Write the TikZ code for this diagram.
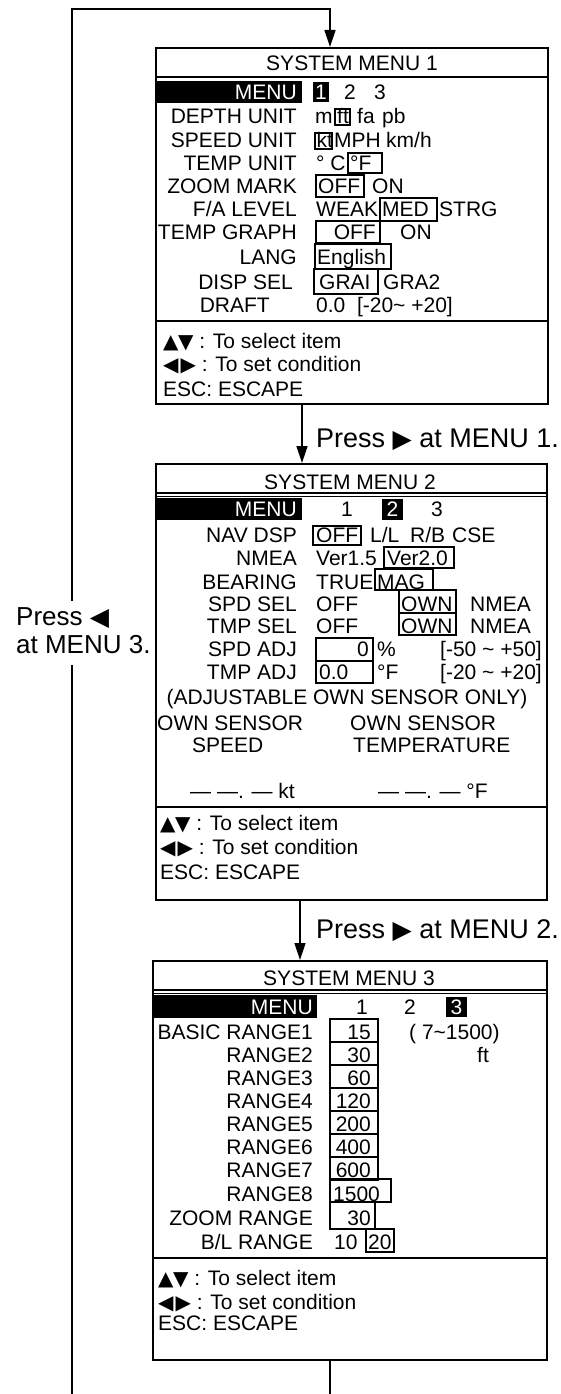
\documentclass[tikz,border=0pt]{standalone}
\usepackage{fontspec}
\setmainfont{Liberation Sans}
\newfontfamily\symf{DejaVu Sans}
\usetikzlibrary{arrows.meta}
\newcommand\menufont{\fontsize{21}{25}\selectfont}
\newcommand\labfont{\fontsize{27}{28}\selectfont}
\newcommand\leftlabfont{\fontsize{26}{28}\selectfont}
\newcommand\updn{{\symf\fontsize{20}{20}\selectfont ▲\kern-0.5pt▼}}
\newcommand\lfrt{{\symf\fontsize{20}{20}\selectfont ◀\kern2pt▶}}
\newcommand\rtri{{\symf\fontsize{25}{25}\selectfont ▶}}
\newcommand\ltri{{\symf\fontsize{25}{25}\selectfont ◀}}
\tikzset{
  mt/.style={inner sep=0pt, font=\menufont},
  wt/.style={mt, text=white},
  lt/.style={inner sep=0pt, font=\labfont},
  llt/.style={inner sep=0pt, font=\leftlabfont},
  bx/.style={draw, line width=1.2pt},
  frame/.style={draw, line width=1.8pt, inner sep=0pt, anchor=north west},
  sepl/.style={line width=1.6pt},
  conn/.style={line width=1.4pt},
  arr/.style={conn, -{Triangle[length=17pt,width=11pt]}},
}
\begin{document}
\begin{tikzpicture}[x=1pt,y=-1pt]
\useasboundingbox (0,0) rectangle (560,1394);

% ---------------- MENU 1 ----------------
\node[frame, minimum width=392, minimum height=356] (m1) at (155,47) {};
\node[mt] (t1) at (352,63) {SYSTEM MENU 1};
\draw[sepl] (155,77) -- (547,77);
\fill (155,81) rectangle (302,103);
\node[wt, anchor=base east] (k1) at (297,99.5) {MENU};
\fill (313,82) rectangle (329,102);
\node[wt, anchor=base] (a11) at (321,99.5) {1};
\node[mt, anchor=base] (a12) at (350,99.5) {2};
\node[mt, anchor=base] (a13) at (380,99.5) {3};

\node[mt, anchor=base east] (k2) at (297,124) {DEPTH UNIT};
\node[mt, anchor=base west] (b1) at (315,124) {m};
\draw[bx] (335,109) rectangle (350,125);
\node[mt, anchor=base west] (b2) at (337,124) {ft};
\node[mt, anchor=base west] (b3) at (357,124) {fa};
\node[mt, anchor=base west] (b4) at (382,124) {pb};

\node[mt, anchor=base east] (k3) at (297,147.5) {SPEED UNIT};
\draw[bx] (315,133) rectangle (332,149);
\node[mt, anchor=base west] (c1) at (316.5,147.5) {kt};
\node[mt, anchor=base west] (c2) at (334,147.5) {MPH};
\node[mt, anchor=base west] (c3) at (386,147.5) {km/h};

\node[mt, anchor=base east] (k4) at (297,170.5) {TEMP UNIT};
\node[mt, anchor=base west] (d1) at (316,170.5) {° C};
\draw[bx] (348,153) rectangle (382,173);
\node[mt, anchor=base west] (d2) at (350,170.5) {°F};

\node[mt, anchor=base east] (k5) at (297,193.5) {ZOOM MARK};
\draw[bx] (316,175) rectangle (364,197);
\node[mt, anchor=base west] (e1) at (318,193.5) {OFF};
\node[mt, anchor=base west] (e2) at (372,193.5) {ON};

\node[mt, anchor=base east] (k6) at (297,216.5) {F/A LEVEL};
\node[mt, anchor=base west] (f1) at (316,216.5) {WEAK};
\draw[bx] (380,198) rectangle (437,221);
\node[mt, anchor=base west] (f2) at (382,216.5) {MED};
\node[mt, anchor=base west] (f3) at (439,216.5) {STRG};

\node[mt, anchor=base east] (k7) at (297,239.5) {TEMP GRAPH};
\draw[bx] (316,221) rectangle (380,243);
\node[mt, anchor=base east] (g1) at (376,239.5) {OFF};
\node[mt, anchor=base west] (g2) at (400,239.5) {ON};

\node[mt, anchor=base east] (k8) at (297,264) {LANG};
\draw[bx] (315,244) rectangle (391,269);
\node[mt, anchor=base west] (h1) at (317,264) {English};

\node[mt, anchor=base east] (k9) at (293,289) {DISP SEL};
\draw[bx] (314,269) rectangle (378,294);
\node[mt, anchor=base west] (i1) at (319,289) {GRAI};
\node[mt, anchor=base west] (i2) at (383,289) {GRA2};

\node[mt, anchor=base east] (k10) at (270,312.5) {DRAFT};
\node[mt, anchor=base west] (j1) at (316,312.5) {0.0\ \ [-20\textasciitilde\ +20]};

\draw[sepl] (155,321) -- (547,321);
\node[mt, anchor=base west] (hl11) at (163,348.5) {\updn\ : To select item};
\node[mt, anchor=base west] (hl12) at (163,371.5) {\lfrt\ : To set condition};
\node[mt, anchor=base west] (hl13) at (163,396.5) {ESC: ESCAPE};

% ---------------- MENU 2 ----------------
\node[frame, minimum width=391, minimum height=436] (m2) at (155,463) {};
\node[mt] (t2) at (350,482) {SYSTEM MENU 2};
\draw[sepl] (155,493) -- (546,493);
\draw[line width=1pt] (155,496.5) -- (546,496.5);
\fill (155,498) rectangle (302,520);
\node[wt, anchor=base east] (n1) at (297,516.5) {MENU};
\node[mt, anchor=base] (o1) at (347,516.5) {1};
\fill (382,499) rectangle (403,520);
\node[wt, anchor=base] (o2) at (392.5,516.5) {2};
\node[mt, anchor=base] (o3) at (437,516.5) {3};

\node[mt, anchor=base east] (n2) at (297,542.5) {NAV DSP};
\draw[bx] (313,526) rectangle (361,545);
\node[mt, anchor=base west] (p1) at (316,542.5) {OFF};
\node[mt, anchor=base west] (p2) at (370,542.5) {L/L};
\node[mt, anchor=base west] (p3) at (410,542.5) {R/B};
\node[mt, anchor=base west] (p4) at (452,542.5) {CSE};

\node[mt, anchor=base east] (n3) at (297,565.5) {NMEA};
\node[mt, anchor=base west] (q1) at (316,565.5) {Ver1.5};
\draw[bx] (384,547) rectangle (454,568);
\node[mt, anchor=base west] (q2) at (387,565.5) {Ver2.0};

\node[mt, anchor=base east] (n4) at (297,589) {BEARING};
\node[mt, anchor=base west] (r1) at (316,589) {TRUE};
\draw[bx] (375,569) rectangle (433,590);
\node[mt, anchor=base west] (r2) at (377,589) {MAG};

\node[mt, anchor=base east] (n5) at (297,611) {SPD SEL};
\node[mt, anchor=base west] (s1) at (316,611) {OFF};
\draw[bx] (399,590) rectangle (456,613);
\node[mt, anchor=base west] (s2) at (401,611) {OWN};
\node[mt, anchor=base west] (s3) at (470,611) {NMEA};

\node[mt, anchor=base east] (n6) at (297,633) {TMP SEL};
\node[mt, anchor=base west] (u1) at (316,633) {OFF};
\draw[bx] (399,613) rectangle (456,635);
\node[mt, anchor=base west] (u2) at (401,633) {OWN};
\node[mt, anchor=base west] (u3) at (470,633) {NMEA};

\node[mt, anchor=base east] (n7) at (297,656) {SPD ADJ};
\draw[bx] (316,638) rectangle (373,661);
\node[mt, anchor=base east] (v1) at (369,656) {0};
\node[mt, anchor=base west] (v2) at (377,656) {\%};
\node[mt, anchor=base east] (v3) at (542,656) {[-50 \textasciitilde\ +50]};

\node[mt, anchor=base east] (n8) at (297,679.5) {TMP ADJ};
\draw[bx] (316,661) rectangle (373,683);
\node[mt, anchor=base west] (w1) at (319,679.5) {0.0};
\node[mt, anchor=base west] (w2) at (377,679.5) {°F};
\node[mt, anchor=base east] (w3) at (542,679.5) {[-20 \textasciitilde\ +20]};

\node[mt, anchor=base] (x1) at (347,704.5) {(ADJUSTABLE OWN SENSOR ONLY)};
\node[mt, anchor=base west] (x2) at (157,730.5) {OWN SENSOR};
\node[mt, anchor=base west] (x3) at (192,752.5) {SPEED};
\node[mt, anchor=base west] (x4) at (350,730.5) {OWN SENSOR};
\node[mt, anchor=base west] (x5) at (353,752.5) {TEMPERATURE};
\node[mt, anchor=base west] (x6) at (190,798) {— —. — kt};
\node[mt, anchor=base west] (x7) at (378,798) {— —. — °F};

\draw[sepl] (155,807) -- (546,807);
\node[mt, anchor=base west] (hl21) at (160,830.5) {\updn\ : To select item};
\node[mt, anchor=base west] (hl22) at (160,854.5) {\lfrt\ : To set condition};
\node[mt, anchor=base west] (hl23) at (160,879.5) {ESC: ESCAPE};

% ---------------- MENU 3 ----------------
\node[frame, minimum width=394, minimum height=399] (m3) at (152,960) {};
\node[mt] (t3) at (349,978) {SYSTEM MENU 3};
\draw[sepl] (152,990) -- (546,990);
\draw[line width=1pt] (152,993.5) -- (546,993.5);
\fill (152,995) rectangle (317,1018);
\node[wt, anchor=base east] (y1) at (313,1014) {MENU};
\node[mt, anchor=base] (z1) at (362,1014) {1};
\node[mt, anchor=base] (z2) at (410,1014) {2};
\fill (446,997) rectangle (467,1017);
\node[wt, anchor=base] (z3) at (456.5,1014) {3};

\node[mt, anchor=base east] (y2) at (313,1039.5) {BASIC RANGE1};
\node[mt, anchor=base east] (y3) at (313,1062.5) {RANGE2};
\node[mt, anchor=base east] (y4) at (313,1085.5) {RANGE3};
\node[mt, anchor=base east] (y5) at (313,1108.5) {RANGE4};
\node[mt, anchor=base east] (y6) at (313,1131.5) {RANGE5};
\node[mt, anchor=base east] (y7) at (313,1154.5) {RANGE6};
\node[mt, anchor=base east] (y8) at (313,1177.5) {RANGE7};
\node[mt, anchor=base east] (y9) at (313,1201.5) {RANGE8};
\node[mt, anchor=base east] (y10) at (313,1225.5) {ZOOM RANGE};
\node[mt, anchor=base east] (y11) at (313,1249.5) {B/L RANGE};

\foreach \ya/\yb in {1019/1042,1042/1065,1065/1088,1088/1111,1111/1134,1134/1157,1157/1180}
  \draw[bx] (330,\ya) rectangle (378,\yb);
\draw[bx] (330,1179) rectangle (391,1202);
\draw[bx] (330,1202) rectangle (375,1229);
\draw[bx] (366,1229) rectangle (394,1252);

\node[mt, anchor=base east] (r31) at (371,1039.5) {15};
\node[mt, anchor=base east] (r32) at (371,1062.5) {30};
\node[mt, anchor=base east] (r33) at (371,1085.5) {60};
\node[mt, anchor=base east] (r34) at (371,1108.5) {120};
\node[mt, anchor=base east] (r35) at (371,1131.5) {200};
\node[mt, anchor=base east] (r36) at (371,1154.5) {400};
\node[mt, anchor=base east] (r37) at (371,1177.5) {600};
\node[mt, anchor=base west] (r38) at (333,1201.5) {1500};
\node[mt, anchor=base east] (r39) at (371,1225.5) {30};
\node[mt, anchor=base west] (r40) at (334,1249.5) {10};
\node[mt, anchor=base west] (r41) at (368,1249.5) {20};
\node[mt, anchor=base west] (r42) at (409,1039.5) {( 7\textasciitilde 1500)};
\node[mt, anchor=base west] (r43) at (477,1062.5) {ft};

\draw[sepl] (152,1258) -- (546,1258);
\node[mt, anchor=base west] (hl31) at (158,1285.5) {\updn\ : To select item};
\node[mt, anchor=base west] (hl32) at (158,1309.5) {\lfrt\ : To set condition};
\node[mt, anchor=base west] (hl33) at (158,1330.5) {ESC: ESCAPE};

% ---------------- connectors ----------------
\coordinate (tl) at (72,9);
\coordinate (tr) at (330,9);
\coordinate (bl) at (72,1394);
\coordinate (br) at (330,1394);
\coordinate (gT) at (72,601);
\coordinate (gB) at (72,665);
\coordinate (cx1) at (302,0);
\coordinate (cx2) at (300,0);

\draw[arr] (gT) -- (tl) -- (tr) -- (tr |- m1.north);
\draw[conn] (gB) -- (bl);
\draw[conn] (br |- m3.south) -- (br);
\draw[arr] (cx1 |- m1.south) -- (cx1 |- m2.north);
\draw[arr] (cx2 |- m2.south) -- (cx2 |- m3.north);

\node[lt, anchor=base west] (l1) at (316,447) {Press \rtri\ at MENU 1.};
\node[lt, anchor=base west] (l2) at (316,938) {Press \rtri\ at MENU 2.};
\node[llt, anchor=base west] (l3) at (16,625) {Press \ltri};
\node[llt, anchor=base west] (l4) at (16,653) {at MENU 3.};
\end{tikzpicture}
\end{document}
